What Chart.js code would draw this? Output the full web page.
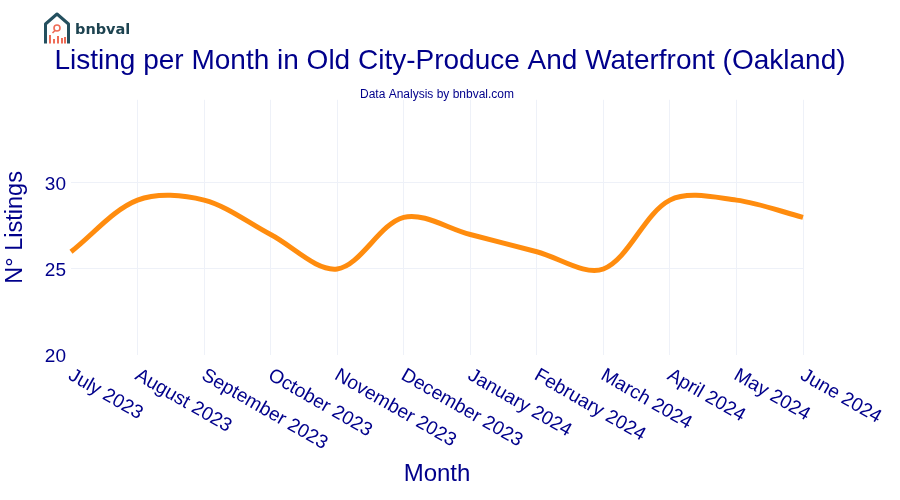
<!DOCTYPE html>
<html>
<head>
<meta charset="utf-8">
<title>Listing per Month</title>
<script src="https://cdn.jsdelivr.net/npm/chart.js@4"></script>
<style>
	html, body { margin: 0; padding: 0; background: #fff; }
	#wrap { position: relative; width: 900px; height: 500px; }
	#logo { position: absolute; left: 40px; top: 10px; }
	#brand { position: absolute; left: 75px; top: 21px; font: bold 14.5px "DejaVu Sans", sans-serif; color: #1d4350; }
</style>
</head>
<body>
<div id="wrap">
	<canvas id="chart" width="900" height="500"></canvas>
	<!-- logo -->
	<svg id="logo" width="36" height="36" viewBox="0 0 36 36">
		<path d="M5.5 33.5 V14 L17 4 L28.5 14 V33.5" fill="none" stroke="#24505f" stroke-width="3" stroke-linejoin="round"/>
		<circle cx="17" cy="18" r="3" fill="none" stroke="#ee6c57" stroke-width="1.6"/>
		<path d="M15 20.5 L12.5 23" stroke="#ee6c57" stroke-width="1.6"/>
		<path d="M10 33.5 V25 M14 33.5 V29 M18 33.5 V26 M22 33.5 V28 M25 33.5 V27" stroke="#ee6c57" stroke-width="2"/>
	</svg>
	<div id="brand">bnbval</div>
</div>
<script>
'use strict';
var months = ['July 2023','August 2023','September 2023','October 2023','November 2023','December 2023','January 2024','February 2024','March 2024','April 2024','May 2024','June 2024'];
var listings = [26,29,29,27,25,28,27,26,25,29,29,28];
var navy = '#00008b';
var fontFamily = '"Liberation Sans", Arial, sans-serif';

/* tick labels start at the tick and go down to the right, the library only anchors them at the end */
var slantedLabels = {
	id: 'slantedLabels',
	afterDraw: function(chart){
		var ctx = chart.ctx;
		var x = chart.scales.x;
		ctx.save();
		ctx.font = '19.2px ' + fontFamily;
		ctx.fillStyle = navy;
		ctx.textAlign = 'left';
		ctx.textBaseline = 'middle';
		months.forEach(function(label, i){
			ctx.save();
			ctx.translate(x.getPixelForTick(i) - 1, x.top + 19);
			ctx.rotate(30 * Math.PI / 180);
			ctx.fillText(label, 0, 0);
			ctx.restore();
		});
		ctx.restore();
	}
};

new Chart(document.getElementById('chart'), {
	type: 'line',
	plugins: [slantedLabels],
	data: {
		labels: months,
		datasets: [{
			data: listings,
			borderColor: '#ff8c0e',
			borderWidth: 5,
			tension: 0.33,
			pointRadius: 0,
			fill: false,
			clip: false
		}]
	},
	options: {
		responsive: false,
		animation: false,
		plugins: {
			legend: { display: false },
			tooltip: { enabled: false },
			title: {
				display: true,
				text: 'Listing per Month in Old City-Produce And Waterfront (Oakland)',
				color: navy,
				font: { family: fontFamily, size: 28, weight: 'normal' },
				padding: { top: 44, bottom: 12.6 }
			},
			subtitle: {
				display: true,
				fullSize: false,
				text: 'Data Analysis by bnbval.com',
				color: navy,
				font: { family: fontFamily, size: 12, weight: 'normal', lineHeight: 0.8 },
				padding: 0
			}
		},
		scales: {
			x: {
				type: 'category',
				offset: false,
				afterFit: function(s){ s.height = 145; },
				border: { display: false },
				grid: {
					drawTicks: false,
					color: function(c){ return c.index === 0 ? 'rgba(0,0,0,0)' : '#eef1f8'; }
				},
				ticks: { display: false },
				title: {
					display: true,
					text: 'Month',
					color: navy,
					font: { family: fontFamily, size: 24, weight: 'normal' },
					padding: { top: 0, bottom: 11 }
				}
			},
			y: {
				min: 20,
				max: 34.83,
				afterFit: function(s){ s.width = 71; },
				afterBuildTicks: function(s){
					s.ticks = s.ticks.filter(function(t){ return t.value <= 30; });
				},
				border: { display: false },
				grid: {
					drawTicks: false,
					color: function(c){ return c.tick && c.tick.value === 20 ? 'rgba(0,0,0,0)' : '#eef1f8'; }
				},
				ticks: {
					stepSize: 5,
					color: navy,
					padding: 5,
					labelOffset: 1.5,
					font: { family: fontFamily, size: 19 }
				},
				title: {
					display: true,
					text: 'N° Listings',
					color: navy,
					font: { family: fontFamily, size: 23.5, weight: 'normal' },
					padding: { top: 1, bottom: 0 }
				}
			},
			/* empty axis, keeps the right margin without moving the title off the page centre */
			spacer: {
				position: 'right',
				afterFit: function(s){ s.width = 97; },
				border: { display: false },
				grid: { display: false },
				ticks: { display: false }
			}
		}
	}
});
</script>
</body>
</html>
